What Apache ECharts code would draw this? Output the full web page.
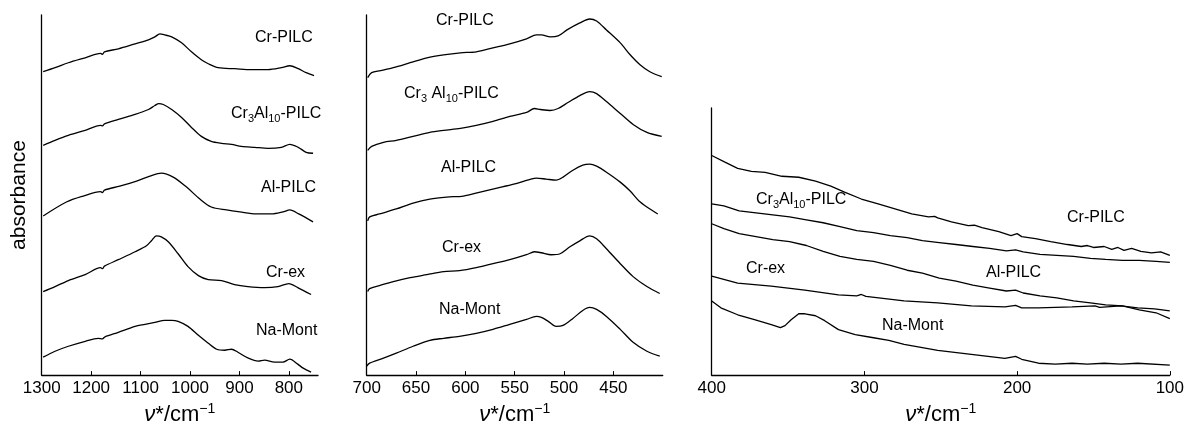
<!DOCTYPE html>
<html><head><meta charset="utf-8">
<script src="https://cdn.jsdelivr.net/npm/echarts@6/dist/echarts.min.js"></script>
<style>html,body{margin:0;padding:0;background:#fff}#c{width:1187px;height:433px}</style>
</head><body><div id="c"></div>
<script>
// tick labels
const ticks1 = [1300, 1200, 1100, 1000, 900, 800];
const ticks2 = [700, 650, 600, 550, 500, 450];
const ticks3 = [400, 300, 200, 100];
const axisTitle = '{i|ν}*/cm{s|−1}';
const yTitle = 'absorbance';
const sampleNames = ['Cr-PILC', 'Cr3Al10-PILC', 'Al-PILC', 'Cr-ex', 'Na-Mont'];

// panel 1 (1300-750 cm-1): [wavenumber, offset absorbance]
const p1CrPILC = [[1297,3.05],[1273,3.09],[1246,3.14],[1212,3.19],[1181,3.235],[1177,3.225],[1173,3.25],[1145,3.28],[1111,3.33],[1084,3.37],[1071,3.40],[1061,3.43],[1051,3.42],[1037,3.40],[1017,3.34],[997,3.25],[977,3.17],[963,3.13],[943,3.09],[909,3.08],[876,3.07],[842,3.07],[815,3.09],[798,3.11],[781,3.08],[765,3.04],[749,3.01]];
const p1Cr3Al10 = [[1297,2.31],[1273,2.36],[1246,2.41],[1212,2.46],[1181,2.51],[1177,2.505],[1173,2.525],[1145,2.57],[1111,2.62],[1084,2.67],[1071,2.71],[1063,2.73],[1054,2.72],[1037,2.67],[1017,2.59],[997,2.49],[977,2.40],[957,2.35],[936,2.33],[916,2.32],[896,2.30],[869,2.29],[842,2.28],[815,2.29],[798,2.32],[781,2.29],[765,2.24],[751,2.23]];
const p1AlPILC = [[1297,1.60],[1250,1.74],[1216,1.80],[1181,1.845],[1177,1.835],[1173,1.86],[1142,1.90],[1108,1.95],[1081,2.00],[1058,2.03],[1034,1.99],[1007,1.89],[980,1.77],[957,1.69],[926,1.66],[899,1.64],[866,1.62],[835,1.62],[812,1.64],[798,1.66],[780,1.62],[751,1.54]];
const p1CrEx = [[1297,0.84],[1273,0.89],[1246,0.95],[1212,1.01],[1181,1.08],[1177,1.07],[1173,1.095],[1145,1.16],[1111,1.24],[1088,1.30],[1078,1.35],[1068,1.40],[1058,1.39],[1044,1.34],[1024,1.22],[1004,1.09],[983,1.00],[963,0.96],[936,0.95],[910,0.91],[883,0.89],[849,0.88],[822,0.89],[800,0.92],[782,0.88],[755,0.81]];
const p1NaMont = [[1297,0.18],[1273,0.24],[1246,0.29],[1212,0.34],[1186,0.37],[1177,0.365],[1172,0.385],[1145,0.43],[1111,0.49],[1091,0.51],[1071,0.53],[1051,0.55],[1037,0.55],[1024,0.54],[1004,0.49],[983,0.40],[963,0.32],[946,0.26],[930,0.25],[916,0.26],[903,0.23],[882,0.17],[862,0.14],[849,0.15],[829,0.13],[812,0.13],[798,0.16],[782,0.11],[771,0.07],[755,0.03]];

// panel 2 (700-400 cm-1)
const p2CrPILC = [[699,2.99],[695,3.04],[686,3.06],[673,3.09],[656,3.14],[639,3.19],[622,3.22],[605,3.24],[589,3.25],[572,3.29],[555,3.33],[538,3.38],[528,3.42],[523,3.42],[514,3.40],[506,3.41],[497,3.47],[484,3.54],[474,3.58],[467,3.56],[457,3.47],[443,3.34],[433,3.22],[423,3.12],[413,3.05],[401,3.00]];
const p2Cr3Al10 = [[699,2.26],[695,2.30],[683,2.34],[670,2.36],[653,2.40],[636,2.44],[622,2.46],[605,2.48],[589,2.51],[572,2.55],[555,2.60],[538,2.64],[530,2.68],[524,2.67],[514,2.66],[506,2.68],[496,2.74],[484,2.81],[474,2.85],[467,2.83],[457,2.75],[443,2.63],[430,2.52],[416,2.44],[401,2.40]];
const p2AlPILC = [[699,1.55],[697,1.59],[687,1.62],[670,1.67],[653,1.73],[636,1.77],[619,1.79],[602,1.80],[585,1.84],[568,1.88],[551,1.92],[535,1.965],[528,1.98],[518,1.97],[508,1.96],[501,1.99],[491,2.06],[481,2.11],[474,2.12],[467,2.10],[457,2.04],[443,1.94],[433,1.85],[424,1.75],[416,1.69],[405,1.62]];
const p2CrEx = [[699,0.84],[697,0.87],[687,0.90],[673,0.94],[656,0.98],[639,1.01],[622,1.04],[606,1.05],[589,1.08],[572,1.12],[555,1.16],[538,1.21],[530,1.24],[523,1.23],[513,1.21],[504,1.22],[494,1.29],[484,1.35],[474,1.40],[467,1.37],[457,1.27],[443,1.12],[430,0.99],[416,0.89],[403,0.82]];
const p2NaMont = [[700,0.09],[697,0.12],[683,0.17],[670,0.22],[653,0.29],[636,0.35],[622,0.37],[606,0.39],[589,0.42],[572,0.46],[555,0.51],[538,0.56],[528,0.59],[523,0.58],[516,0.54],[508,0.49],[501,0.50],[491,0.57],[481,0.65],[474,0.68],[467,0.66],[457,0.59],[443,0.46],[430,0.33],[416,0.24],[403,0.19]];

// panel 3 (400-100 cm-1)
const p3CrPILC = [[400,2.22],[391,2.15],[383,2.09],[374,2.06],[365,2.05],[354,2.01],[343,2.00],[332,1.96],[322,1.91],[313,1.85],[302,1.78],[291,1.73],[280,1.68],[269,1.63],[258,1.60],[254,1.605],[252,1.59],[243,1.55],[232,1.51],[228,1.515],[223,1.49],[212,1.45],[204,1.41],[200,1.43],[197,1.40],[188,1.38],[178,1.35],[167,1.32],[158,1.30],[154,1.31],[150,1.29],[143,1.30],[138,1.27],[134,1.29],[130,1.26],[125,1.28],[119,1.25],[112,1.235],[106,1.245],[100,1.21]];
const p3Cr3Al10 = [[400,1.73],[392,1.71],[382,1.66],[371,1.64],[360,1.62],[349,1.60],[338,1.57],[327,1.54],[316,1.50],[305,1.46],[294,1.44],[283,1.41],[272,1.39],[262,1.36],[251,1.34],[240,1.32],[229,1.30],[218,1.28],[207,1.255],[201,1.265],[196,1.245],[185,1.22],[174,1.21],[163,1.20],[152,1.18],[142,1.17],[131,1.16],[120,1.16],[109,1.15],[100,1.14]];
const p3AlPILC = [[400,1.53],[392,1.48],[382,1.43],[371,1.40],[360,1.37],[349,1.35],[338,1.31],[327,1.25],[316,1.20],[305,1.17],[294,1.15],[283,1.11],[272,1.06],[262,1.03],[251,0.98],[240,0.95],[229,0.91],[218,0.88],[207,0.85],[201,0.86],[196,0.83],[185,0.80],[174,0.78],[163,0.75],[152,0.73],[142,0.71],[131,0.70],[120,0.66],[109,0.63],[100,0.57]];
const p3CrEx = [[400,1.00],[383,0.93],[361,0.90],[339,0.86],[317,0.81],[305,0.80],[302,0.815],[299,0.795],[274,0.75],[252,0.73],[230,0.70],[208,0.69],[201,0.705],[197,0.68],[186,0.68],[164,0.69],[149,0.70],[146,0.685],[132,0.70],[121,0.68],[110,0.67],[100,0.65]];
const p3NaMont = [[400,0.75],[394,0.68],[383,0.61],[372,0.56],[361,0.51],[355,0.48],[352,0.50],[348,0.56],[343,0.62],[339,0.62],[332,0.60],[326,0.55],[317,0.46],[306,0.41],[295,0.38],[284,0.35],[274,0.31],[263,0.28],[252,0.25],[241,0.23],[230,0.21],[219,0.19],[208,0.17],[201,0.19],[197,0.16],[186,0.12],[175,0.11],[164,0.12],[154,0.11],[143,0.12],[132,0.11],[121,0.12],[100,0.10]];

const FONT = '"Liberation Sans", Arial, Helvetica, sans-serif';
const chart = echarts.init(document.getElementById('c'), null, {renderer: 'canvas'});

const grids = [
  {left: 41.7, top: 15, width: 276.3, height: 362},
  {left: 366.7, top: 15, width: 296, height: 362},
  {left: 711.7, top: 108, width: 458.3, height: 270}
];
function xAx(i, min, max, ticks) {
  return {
    type: 'value', gridIndex: i, inverse: true, min: min, max: max,
    axisLine: {show: true, onZero: false, lineStyle: {color: '#000', width: 1.3}},
    axisTick: {show: true, inside: true, length: 4, customValues: ticks, lineStyle: {color: '#000', width: 1}},
    axisLabel: {customValues: ticks, color: '#000', fontSize: 17, fontFamily: FONT, margin: 5,
      formatter: function (v) { return String(v); }},
    splitLine: {show: false},
    name: axisTitle, nameLocation: 'middle', nameGap: 22,
    nameTextStyle: {color: '#000', fontSize: 22, fontFamily: FONT, lineHeight: 26,
      rich: {
        i: {fontStyle: 'italic', fontSize: 22, fontFamily: FONT, color: '#000', lineHeight: 26},
        s: {fontSize: 14, fontFamily: FONT, color: '#000', lineHeight: 15, verticalAlign: 'top'}
      }}
  };
}
function yAx(i, max, name) {
  return {
    type: 'value', gridIndex: i, min: 0, max: max,
    axisLine: {show: true, onZero: false, lineStyle: {color: '#000', width: 1.3}},
    axisTick: {show: false}, axisLabel: {show: false}, splitLine: {show: false},
    name: name || '', nameLocation: 'middle', nameGap: 12,
    nameTextStyle: {color: '#000', fontSize: 21, fontFamily: FONT}
  };
}
const panels = [
  [p1CrPILC, p1Cr3Al10, p1AlPILC, p1CrEx, p1NaMont],
  [p2CrPILC, p2Cr3Al10, p2AlPILC, p2CrEx, p2NaMont],
  [p3CrPILC, p3Cr3Al10, p3AlPILC, p3CrEx, p3NaMont]
];
const series = [];
panels.forEach(function (list, gi) {
  list.forEach(function (d, k) {
    series.push({
      type: 'line', name: sampleNames[k] + ' ' + (gi + 1), xAxisIndex: gi, yAxisIndex: gi,
      data: d, showSymbol: false, smooth: gi < 2 ? 0.3 : false,
      lineStyle: {color: '#000', width: 1.3}, silent: true
    });
  });
});

// curve labels (text from sampleNames; positions in px)
const subRich = {s: {fontSize: 11, fontFamily: FONT, fill: '#000', lineHeight: 11, verticalAlign: 'bottom'}};
function lab(text, x, y) {
  return {type: 'text', x: x, y: y, silent: true,
    style: {text: text, fill: '#000', fontSize: 16, fontFamily: FONT, lineHeight: 21,
      align: 'left', verticalAlign: 'middle', rich: subRich}};
}
const cr3 = 'Cr{s|3}Al{s|10}-PILC';
const cr3b = 'Cr{s|3} Al{s|10}-PILC';
const graphics = [
  lab(sampleNames[0], 255, 38), lab(cr3, 231, 114), lab(sampleNames[2], 261, 188), lab(sampleNames[3], 266, 273), lab(sampleNames[4], 256, 331),
  lab(sampleNames[0], 436, 21), lab(cr3b, 404, 94), lab(sampleNames[2], 441, 168), lab(sampleNames[3], 442, 248), lab(sampleNames[4], 439, 310),
  lab(cr3, 756, 200), lab(sampleNames[0], 1067, 218), lab(sampleNames[2], 986, 273), lab(sampleNames[3], 746, 269), lab(sampleNames[4], 882, 326)
];

chart.setOption({
  animation: false,
  backgroundColor: '#fff',
  grid: grids,
  xAxis: [xAx(0, 741, 1300, ticks1), xAx(1, 400, 700, ticks2), xAx(2, 100, 400, ticks3)],
  yAxis: [yAx(0, 3.62, yTitle), yAx(1, 3.62), yAx(2, 2.70)],
  series: series,
  graphic: graphics
});
</script></body></html>
